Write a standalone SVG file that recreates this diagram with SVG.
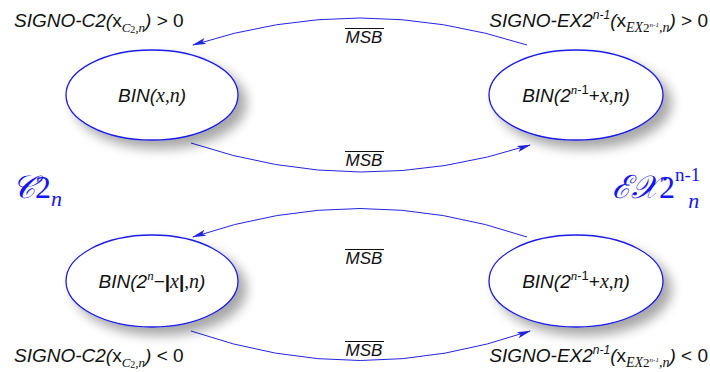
<svg xmlns="http://www.w3.org/2000/svg" width="710" height="372" viewBox="0 0 710 372">
  <style>
    .node { fill: #ffffff; stroke: #1a1ae6; stroke-width: 1.3; }
    .edge { fill: none; stroke: #2323e0; stroke-width: 1; }
    .lbl { font-family: "Liberation Sans", Arial, sans-serif; font-size: 19px; fill: #111; }
    .it { font-style: italic; }
    .mth { font-family: "Liberation Serif", "Times New Roman", serif; font-style: italic; }
    .cor { font-family: "Liberation Sans", Arial, sans-serif; font-size: 19px; fill: #111; }
    .big { font-family: "Liberation Serif", "Times New Roman", serif; fill: #1515f0; }
    .msb { font-family: "Liberation Sans", Arial, sans-serif; font-size: 17px; font-style: italic; fill: #111; text-anchor: middle; }
  </style>
  <defs>
    <filter id="shadow" x="-20%" y="-20%" width="150%" height="160%">
      <feGaussianBlur in="SourceAlpha" stdDeviation="6"/>
      <feOffset dx="8" dy="8" result="b"/>
      <feComponentTransfer><feFuncA type="linear" slope="0.35"/></feComponentTransfer>
      <feMerge><feMergeNode/><feMergeNode in="SourceGraphic"/></feMerge>
    </filter>
    <marker id="arrow" markerWidth="14" markerHeight="8" refX="13" refY="4" orient="auto" markerUnits="userSpaceOnUse">
      <path d="M0,0.8 L14,4 L0,7.2 L3,4 Z" fill="#2323e0"/>
    </marker>
  </defs>
  <rect width="710" height="372" fill="#ffffff"/>

  <!-- transitions -->
  <g id="connectors">
    <path class="edge" d="M527,45 Q360,-9 193,45" marker-end="url(#arrow)"/>
    <path class="edge" d="M191,143 Q360,200 530,145" marker-end="url(#arrow)"/>
    <path class="edge" d="M527,237 Q360,180 193,237" marker-end="url(#arrow)"/>
    <path class="edge" d="M191,331 Q360,390 530,331" marker-end="url(#arrow)"/>
    <text class="msb" x="364" y="43">MSB</text>
    <line x1="345" y1="28.5" x2="384" y2="28.5" stroke="#111" stroke-width="1"/>
    <text class="msb" x="364" y="166">MSB</text>
    <line x1="345" y1="151.5" x2="384" y2="151.5" stroke="#111" stroke-width="1"/>
    <text class="msb" x="364" y="264">MSB</text>
    <line x1="345" y1="249.5" x2="384" y2="249.5" stroke="#111" stroke-width="1"/>
    <text class="msb" x="364" y="356">MSB</text>
    <line x1="345" y1="341.5" x2="384" y2="341.5" stroke="#111" stroke-width="1"/>
  </g>

  <!-- states -->
  <g id="n-bin-x">
    <ellipse class="node" cx="152" cy="95" rx="86" ry="45" filter="url(#shadow)"/>
    <text class="lbl" x="152" y="102" text-anchor="middle"><tspan class="it">BIN(</tspan><tspan class="mth" font-size="20">x</tspan><tspan font-family="Liberation Serif">,</tspan><tspan class="mth" font-size="20">n</tspan><tspan class="it">)</tspan></text>
  </g>
  <g id="n-bin-top-right">
    <ellipse class="node" cx="576" cy="95" rx="87" ry="45" filter="url(#shadow)"/>
    <text class="lbl" x="576" y="102" text-anchor="middle"><tspan class="it">BIN(2</tspan><tspan class="mth" font-size="13" dy="-8">n</tspan><tspan font-size="13">-1</tspan><tspan dy="8">+</tspan><tspan class="mth" font-size="20">x</tspan><tspan font-family="Liberation Serif">,</tspan><tspan class="mth" font-size="20">n</tspan><tspan class="it">)</tspan></text>
  </g>
  <g id="n-bin-complement">
    <ellipse class="node" cx="152" cy="281" rx="86" ry="46" filter="url(#shadow)"/>
    <text class="lbl" x="152" y="288" text-anchor="middle"><tspan class="it">BIN(2</tspan><tspan class="mth" font-size="13" dy="-8">n</tspan><tspan dy="8">−</tspan><tspan font-weight="bold">|</tspan><tspan class="mth" font-size="20">x</tspan><tspan font-weight="bold">|</tspan><tspan font-family="Liberation Serif">,</tspan><tspan class="mth" font-size="20">n</tspan><tspan class="it">)</tspan></text>
  </g>
  <g id="n-bin-bottom-right">
    <ellipse class="node" cx="576" cy="281" rx="87" ry="46" filter="url(#shadow)"/>
    <text class="lbl" x="576" y="288" text-anchor="middle"><tspan class="it">BIN(2</tspan><tspan class="mth" font-size="13" dy="-8">n</tspan><tspan font-size="13">-1</tspan><tspan dy="8">+</tspan><tspan class="mth" font-size="20">x</tspan><tspan font-family="Liberation Serif">,</tspan><tspan class="mth" font-size="20">n</tspan><tspan class="it">)</tspan></text>
  </g>

  <!-- sign conditions -->
  <g id="cond-top-left">
    <text class="cor" x="14" y="27"><tspan class="it">SIGNO-C2(</tspan><tspan>x</tspan><tspan class="mth" font-size="13" dy="5">C</tspan><tspan font-family="Liberation Serif" font-size="10" dy="1">2</tspan><tspan class="mth" font-size="13" dy="-1">,n</tspan><tspan class="it" dy="-5">)</tspan><tspan> &gt; 0</tspan></text>
  </g>
  <g id="cond-top-right">
    <text class="cor" x="708" y="27" text-anchor="end"><tspan class="it">SIGNO-EX2</tspan><tspan class="it" font-size="12" dy="-8">n-1</tspan><tspan class="it" dy="8">(</tspan><tspan>x</tspan><tspan class="mth" font-size="14" dy="5">EX</tspan><tspan font-family="Liberation Serif" font-size="13">2</tspan><tspan class="mth" font-size="7" dy="-5">n-1</tspan><tspan class="mth" font-size="14" dy="5">,n</tspan><tspan class="it" dy="-5">)</tspan><tspan> &gt; 0</tspan></text>
  </g>
  <g id="cond-bottom-left">
    <text class="cor" x="14" y="362"><tspan class="it">SIGNO-C2(</tspan><tspan>x</tspan><tspan class="mth" font-size="13" dy="5">C</tspan><tspan font-family="Liberation Serif" font-size="10" dy="1">2</tspan><tspan class="mth" font-size="13" dy="-1">,n</tspan><tspan class="it" dy="-5">)</tspan><tspan> &lt; 0</tspan></text>
  </g>
  <g id="cond-bottom-right">
    <text class="cor" x="708" y="362" text-anchor="end"><tspan class="it">SIGNO-EX2</tspan><tspan class="it" font-size="12" dy="-8">n-1</tspan><tspan class="it" dy="8">(</tspan><tspan>x</tspan><tspan class="mth" font-size="14" dy="5">EX</tspan><tspan font-family="Liberation Serif" font-size="13">2</tspan><tspan class="mth" font-size="7" dy="-5">n-1</tspan><tspan class="mth" font-size="14" dy="5">,n</tspan><tspan class="it" dy="-5">)</tspan><tspan> &lt; 0</tspan></text>
  </g>

  <!-- representation names -->
  <g id="set-c2">
    <text class="big" x="12" y="198" font-size="32"><tspan font-style="italic">𝒞</tspan><tspan>2</tspan><tspan font-style="italic" font-size="22" dy="8">n</tspan></text>
  </g>
  <g id="set-ex2">
    <text class="big" x="612" y="198" font-size="32"><tspan font-style="italic">ℰ𝒳</tspan><tspan>2</tspan><tspan font-size="19" dy="-17">n-1</tspan><tspan font-style="italic" font-size="22" dx="-12" dy="27">n</tspan></text>
  </g>
</svg>
